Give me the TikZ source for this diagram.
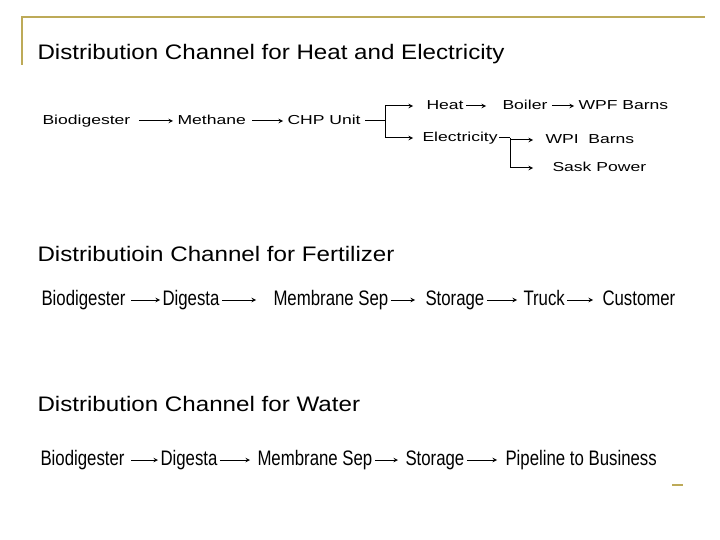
\documentclass[tikz,border=0pt]{standalone}
\usepackage{fontspec}
\setmainfont{Liberation Sans}
\newfontfamily\titleface[FakeStretch=1.15]{Liberation Sans}
\newfontfamily\wideface[FakeStretch=1.35]{Liberation Sans}
\newfontfamily\narrowface[FakeStretch=0.8]{Liberation Sans}
\definecolor{gold}{RGB}{189,170,88}

\begin{document}
\begin{tikzpicture}[x=1pt,y=-1pt,->,>=stealth,line width=1pt,
  ttl/.style={anchor=west,inner sep=0pt,font=\titleface\fontsize{21}{25}\selectfont},
  sm/.style={anchor=west,inner xsep=4pt,inner ysep=2pt,text height=9pt,text depth=2pt,
    font=\wideface\fontsize{13}{15}\selectfont},
  big/.style={anchor=west,inner sep=2pt,text height=14pt,text depth=4pt,
    font=\narrowface\fontsize{21}{25}\selectfont}]

\useasboundingbox (0,0) rectangle (720,540);

\path [draw,-,gold,line width=2pt]
    (22,65) -- (22,17) -- (705,17)
    (672,485) -- (683,485)
;

\node [ttl] (t1) at (37,54) {Distribution Channel for Heat and Electricity};
\node [ttl] (t2) at (37,254) {Distributioin Channel for Fertilizer};
\node [ttl] (t3) at (37,404) {Distribution Channel for Water};

% heat and electricity
\node [sm] (bioA) at (38,121) {Biodigester};
\node [sm] (meth) at (173,121) {Methane};
\node [sm] (chp) at (283,121) {CHP Unit};
\node [sm] (heat) at (422,106) {Heat};
\node [sm] (boil) at (498,106) {Boiler};
\node [sm] (wpf) at (574,106) {WPF Barns};
\node [sm] (elec) at (418,138) {Electricity};
\node [sm] (wpi) at (541,140) {WPI\ \ Barns};
\node [sm] (sask) at (548,168) {Sask Power};

\coordinate (jA) at (385,121);
\coordinate (jB) at (510,138);

\draw [shorten <=4pt] (bioA) -- (meth);
\draw [shorten <=2pt] (meth) -- (chp);
\draw [-] (chp) -- (jA);
\draw [shorten >=9pt] (jA) |- (heat);
\draw [shorten >=5pt] (jA) |- (elec);
\draw [shorten <=-2pt,shorten >=12pt] (heat) -- (boil);
\draw (boil) -- (wpf);
\draw [-,shorten <=-3pt] (elec) -- (jB);
\draw [shorten >=8pt] (jB) |- (wpi);
\draw [shorten >=15pt] (jB) |- (sask);

% fertilizer
\node [big] (bioB) at (39,300) {Biodigester};
\node [big] (digB) at (160,300) {Digesta};
\node [big] (memB) at (271,300) {Membrane Sep};
\node [big] (stoB) at (423,300) {Storage};
\node [big] (truck) at (521,300) {Truck};
\node [big] (cust) at (600,300) {Customer};

\draw [shorten <=3pt] (bioB) -- (digB);
\draw [shorten >=15pt] (digB) -- (memB);
\draw [shorten >=8pt] (memB) -- (stoB);
\draw [shorten >=4pt] (stoB) -- (truck);
\draw [shorten >=7pt] (truck) -- (cust);

% water
\node [big] (bioC) at (38,460) {Biodigester};
\node [big] (digC) at (158,460) {Digesta};
\node [big] (memC) at (255,460) {Membrane Sep};
\node [big] (stoC) at (403,460) {Storage};
\node [big] (pipe) at (503,460) {Pipeline to Business};

\draw [shorten <=4pt] (bioC) -- (digC);
\draw [shorten >=5pt] (digC) -- (memC);
\draw [shorten >=5pt] (memC) -- (stoC);
\draw [shorten >=6pt] (stoC) -- (pipe);

\end{tikzpicture}
\end{document}
